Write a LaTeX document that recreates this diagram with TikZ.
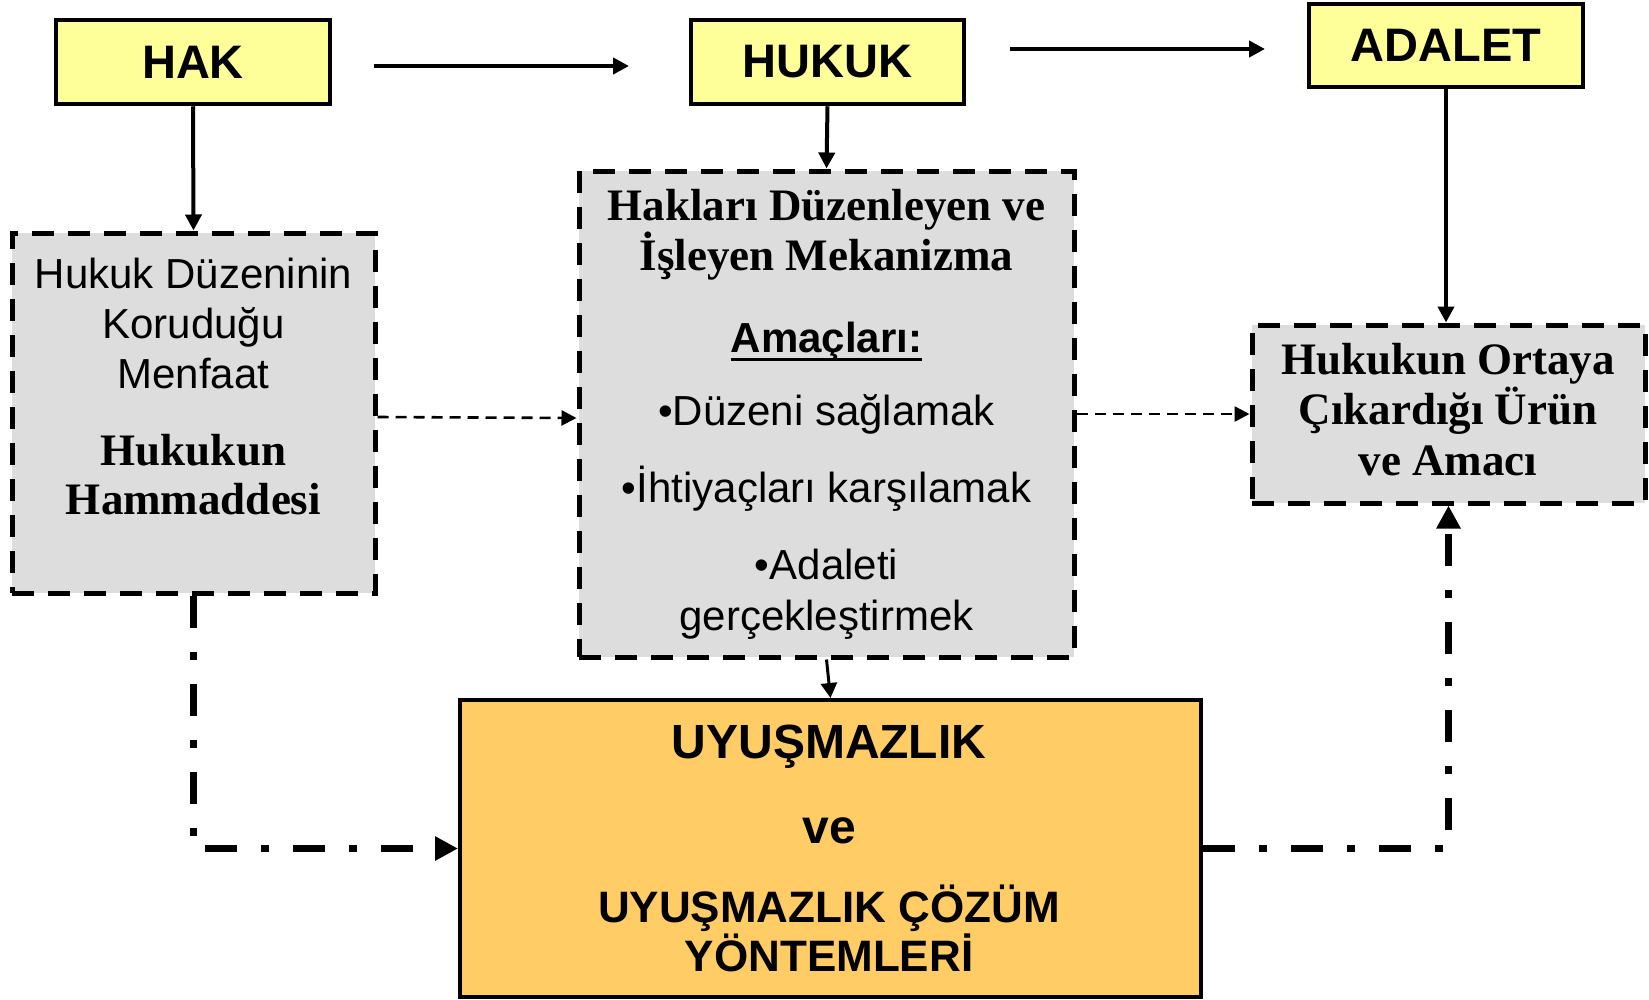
\documentclass[tikz,border=0pt]{standalone}
\usepackage{fontspec}
\usetikzlibrary{arrows.meta}
\newfontfamily\sansf{Liberation Sans}
\newfontfamily\seriff{Liberation Serif}
\definecolor{hkyellow}{HTML}{FFFF99}
\definecolor{hkgray}{HTML}{DDDDDD}
\definecolor{hkorange}{HTML}{FFCC66}
\newcommand\ulineA[1]{\setbox0\hbox{#1}\rlap{\rule[-8.5pt]{\wd0}{3pt}}\box0}
\begin{document}
\begin{tikzpicture}[x=1pt,y=-1pt,
  topbox/.style={draw=black,line width=4.5pt,fill=hkyellow,inner sep=0pt,minimum width=274pt,minimum height=84pt,font=\sansf\bfseries\fontsize{47}{56}\selectfont},
  graybox/.style={draw=black,line width=5pt,fill=hkgray,dash pattern=on 22pt off 14pt,inner sep=0pt},
  orangebox/.style={draw=black,line width=4pt,fill=hkorange,inner sep=0pt},
  sanstxt/.style={anchor=base,inner sep=0pt,font=\sansf\fontsize{42}{50}\selectfont},
  sansbtxt/.style={anchor=base,inner sep=0pt,font=\sansf\bfseries\fontsize{42}{50}\selectfont},
  seriftxt/.style={anchor=base,inner sep=0pt,font=\seriff\bfseries\fontsize{45}{50}\selectfont},
  bigtxt/.style={anchor=base,inner sep=0pt,font=\sansf\bfseries\fontsize{48}{56}\selectfont},
  midtxt/.style={anchor=base,inner sep=0pt,font=\sansf\bfseries\fontsize{44}{52}\selectfont},
  solidarr/.style={line width=4pt,-{Triangle[length=16pt,width=16pt]}},
  thinarr/.style={line width=3pt,-{Triangle[length=15pt,width=16pt]}},
  thindash/.style={line width=2.6pt,dash pattern=on 11pt off 7pt,-{Triangle[length=15pt,width=15pt]}},
  dashdotarr/.style={line width=7pt,dash pattern=on 32pt off 24pt on 8pt off 24pt,-{Triangle[length=23pt,width=23pt]}}
]
\useasboundingbox (0,0) rectangle (1649,999);

% top boxes
\node[topbox] (hak) at (193,62) {HAK};
\node[topbox,minimum width=273pt] (hukuk) at (827.5,62) {HUKUK};
\node[topbox,minimum height=83pt] (adalet) at (1446,45.5) {ADALET};

% gray boxes
\node[graybox,minimum width=363pt,minimum height=360pt] (left) at (193.5,413) {};
\node[graybox,minimum width=495pt,minimum height=486pt] (mid) at (826.5,414) {};
\node[graybox,minimum width=393pt,minimum height=178pt] (right) at (1448.5,414) {};

% orange box
\node[orangebox,minimum width=741pt,minimum height=297pt] (orange) at (830.5,848.5) {};

% left box text
\node[sanstxt] (l1) at (193.5,288) {Hukuk Düzeninin};
\node[sanstxt] (l2) at (193.5,338) {Koruduğu};
\node[sanstxt] (l3) at (193.5,388) {Menfaat};
\node[seriftxt] (l4) at (193.5,465) {Hukukun};
\node[seriftxt] (l5) at (193.5,514) {Hammaddesi};

% middle box text
\node[seriftxt] (m1) at (826.5,220) {Hakları Düzenleyen ve};
\node[seriftxt] (m2) at (826.5,270) {İşleyen Mekanizma};
\node[sansbtxt] (m3) at (826.5,352) {\ulineA{Amaçları:}};
\node[sanstxt] (m4) at (826.5,425) {•Düzeni sağlamak};
\node[sanstxt] (m5) at (826.5,502) {•İhtiyaçları karşılamak};
\node[sanstxt] (m6) at (826.5,579) {•Adaleti};
\node[sanstxt] (m7) at (826.5,630) {gerçekleştirmek};

% right box text
\node[seriftxt] (r1) at (1448,374) {Hukukun Ortaya};
\node[seriftxt] (r2) at (1448,424.5) {Çıkardığı Ürün};
\node[seriftxt] (r3) at (1448,475) {ve Amacı};

% orange box text
\node[bigtxt] (o1) at (829,758) {UYUŞMAZLIK};
\node[bigtxt] (o2) at (829,843) {ve};
\node[midtxt] (o3) at (829,922) {UYUŞMAZLIK ÇÖZÜM};
\node[midtxt] (o4) at (829,971) {YÖNTEMLERİ};

% free arrows on top
\coordinate (t1s) at (374,66);
\coordinate (t1e) at (629,66);
\coordinate (t2s) at (1010,49);
\coordinate (t2e) at (1265,49);
\draw[solidarr] (t1s) -- (t1e);
\draw[solidarr] (t2s) -- (t2e);

% vertical arrows
\draw[solidarr] (hak.south) -- (left.north);
\draw[solidarr] (hukuk.south) -- (mid.north);
\draw[solidarr] (adalet.south) -- (adalet.south |- right.north);
\draw[thinarr] (mid.south) -- (orange.north);

% dashed arrows
\draw[thindash] ([yshift=-4pt]left.east) -- ([yshift=-4pt]mid.west);
\draw[thindash] (mid.east) -- (right.west);

% dash-dot arrows
\draw[dashdotarr] (left.south) |- (orange.west);
\draw[dashdotarr] (orange.east) -| (right.south);
\end{tikzpicture}
\end{document}
